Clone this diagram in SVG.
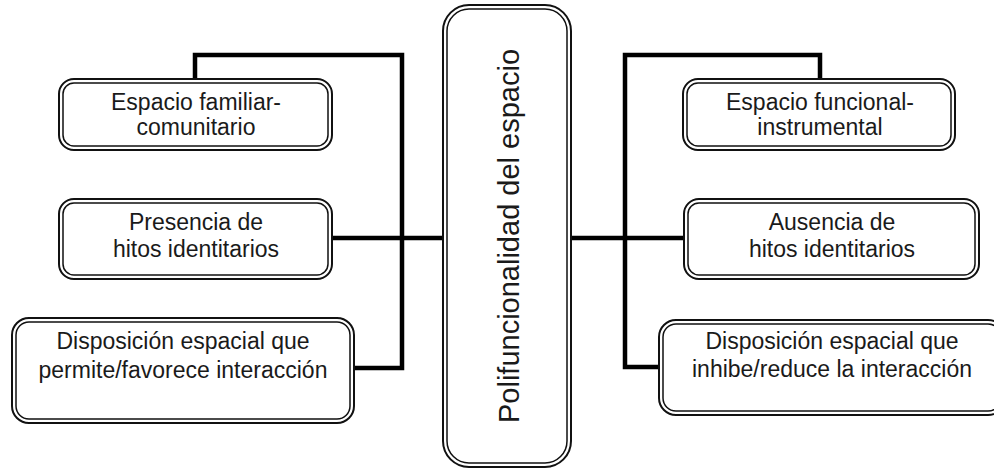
<svg xmlns="http://www.w3.org/2000/svg" width="994" height="471" viewBox="0 0 994 471">
<style>
.o{fill:#fff;stroke:#111;stroke-width:2}
.i{fill:none;stroke:#111;stroke-width:1.5}
.t{font-family:"Liberation Sans",Arial,sans-serif;font-size:23px;fill:#1a1a1a;text-anchor:middle}
.c{fill:none;stroke:#000;stroke-width:4.5;stroke-linejoin:miter}
</style>
<rect width="994" height="471" fill="#fff"/>
<g id="connectors">
<polyline class="c" points="195,79 195,55 402,55 402,368 354,368"/>
<line class="c" x1="332" y1="238" x2="443" y2="238"/>
<line class="c" x1="571" y1="238" x2="684" y2="238"/>
<polyline class="c" points="820,79 820,55 625,55 625,367 659,367"/>
</g>
<g id="center">
<rect class="o" x="443" y="5" width="128" height="462" rx="26"/>
<rect class="i" x="447" y="9" width="120" height="454" rx="22"/>
<text class="t" style="font-size:29px" transform="translate(519,236) rotate(-90)">Polifuncionalidad del espacio</text>
</g>
<g id="l1">
<rect class="o" x="59" y="79" width="273" height="71" rx="15"/>
<rect class="i" x="63" y="83" width="265" height="63" rx="11"/>
<text class="t" x="196" y="110">Espacio familiar-</text>
<text class="t" x="196" y="135">comunitario</text>
</g>
<g id="l2">
<rect class="o" x="59" y="199" width="273" height="80" rx="15"/>
<rect class="i" x="63" y="203" width="265" height="72" rx="11"/>
<text class="t" x="196" y="230">Presencia de</text>
<text class="t" x="196" y="257">hitos identitarios</text>
</g>
<g id="l3">
<rect class="o" x="12" y="318" width="342" height="105" rx="17"/>
<rect class="i" x="16" y="322" width="334" height="97" rx="13"/>
<text class="t" x="183" y="349">Disposición espacial que</text>
<text class="t" x="183" y="378">permite/favorece interacción</text>
</g>
<g id="r1">
<rect class="o" x="683" y="79" width="272" height="71" rx="15"/>
<rect class="i" x="687" y="83" width="264" height="63" rx="11"/>
<text class="t" x="820" y="110">Espacio funcional-</text>
<text class="t" x="820" y="135">instrumental</text>
</g>
<g id="r2">
<rect class="o" x="684" y="199" width="295" height="80" rx="15"/>
<rect class="i" x="688" y="203" width="287" height="72" rx="11"/>
<text class="t" x="832" y="230">Ausencia de</text>
<text class="t" x="832" y="257">hitos identitarios</text>
</g>
<g id="r3">
<rect class="o" x="659" y="320" width="346" height="95" rx="17"/>
<rect class="i" x="663" y="324" width="338" height="87" rx="13"/>
<text class="t" x="832" y="349">Disposición espacial que</text>
<text class="t" x="832" y="377">inhibe/reduce la interacción</text>
</g>
</svg>
